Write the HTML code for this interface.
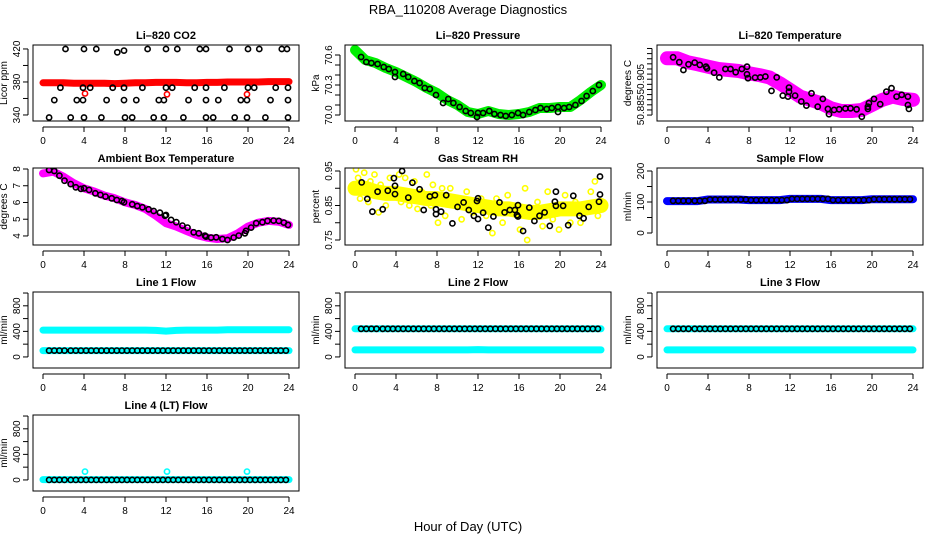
<!DOCTYPE html>
<html><head><meta charset="utf-8"><style>
body{margin:0;background:#fff;}
svg{display:block;font-family:"Liberation Sans",Arial,sans-serif;}
</style></head><body>
<svg id="chart" width="936" height="540" viewBox="0 0 936 540">
<text x="468" y="14" text-anchor="middle" font-size="13">RBA_110208  Average Diagnostics</text>
<text x="468" y="531" text-anchor="middle" font-size="13">Hour of Day (UTC)</text>
</svg>
<script>
const hourly=[0,1,2,3,4,5,6,7,8,9,10,11,12,13,14,15,16,17,18,19,20,21,22,23,24];
const xTicks=[0,4,8,12,16,20,24];
const halfHours=[0.6,1.1,1.6,2.1,2.7,3.2,3.7,4.2,4.7,5.2,5.7,6.2,6.7,7.2,7.7,8.2,8.7,9.2,9.7,10.2,10.7,11.2,11.7,12.2,12.7,13.2,13.7,14.2,14.7,15.2,15.7,16.2,16.7,17.2,17.7,18.2,18.7,19.2,19.7,20.2,20.7,21.2,21.7,22.2,22.7,23.2,23.7];

// CO2
const co2Red=[379,379,379,378.5,378.5,378.5,378.5,378,378.5,379,379,379.5,379.5,379.5,379,379,379.5,379.5,380,380,380,380,380.5,380.5,380.5];
const co2RedOutHours=[4.1,12.1,19.9];
const co2RedOutValues=[366,365,365];
const co2BlackHours=[2.2,4.0,5.2,7.25,7.9,10.2,12.0,13.1,15.3,15.9,18.2,20.0,21.1,23.3,23.8,
1.7,3.9,4.6,6.8,7.9,9.7,12.0,12.6,14.8,15.9,17.7,20.0,20.6,22.7,23.9,
1.1,3.3,3.9,6.2,7.9,9.1,11.3,11.8,14.2,15.9,17.1,19.3,19.9,22.2,23.9,
0.6,2.7,4.0,5.7,8.0,8.7,10.8,11.8,13.7,15.9,16.6,18.7,19.9,21.7,23.9];
const co2BlackValues=[420,420,420,416,418,420,420,420,420,420,420,420,420,420,420,
373,373,373,373,373,373,373,373,373,373,373,373,373,373,373,
358,358,358,358,358,358,358,358,358,358,358,358,358,358,358,
337,337,337,337,337,337,337,337,337,337,337,337,337,337,337];
// Pressure
const presGreen=[70.65,70.55,70.52,70.47,70.43,70.38,70.33,70.27,70.22,70.15,70.10,70.03,70.01,70.04,70.01,70.0,70.01,70.03,70.07,70.07,70.08,70.08,70.15,70.23,70.30];
const presBlackHours=[0.6,1.1,1.6,2.2,2.8,3.3,3.9,3.9,4.7,5.2,5.8,6.3,6.8,7.3,7.9,8.6,9.1,9.6,10.2,10.8,11.3,11.9,12.0,12.5,13.1,13.6,14.2,14.7,15.3,15.9,16.4,17.0,17.6,18.1,18.7,19.2,19.8,19.8,20.4,20.9,21.5,22.1,22.6,23.2,23.8];
const presBlackValues=[70.58,70.53,70.52,70.51,70.48,70.46,70.43,70.38,70.41,70.38,70.34,70.32,70.27,70.26,70.20,70.12,70.16,70.12,70.08,70.04,70.02,69.98,70.02,70.02,70.04,70.01,70.0,69.99,70.0,70.02,70.0,70.03,70.05,70.07,70.06,70.07,70.08,70.03,70.07,70.08,70.10,70.14,70.19,70.24,70.30];
// Li-820 temperature
const tempMagenta=[50.9102,50.9102,50.9083,50.9073,50.9061,50.905,50.9045,50.904,50.9029,50.902,50.9009,50.898,50.8948,50.8915,50.8899,50.8883,50.8858,50.8845,50.8845,50.885,50.8874,50.8899,50.8915,50.8904,50.8899];
const tempBlackHours=[0.6,1.2,1.6,2.1,2.7,3.2,3.8,3.9,4.6,5.1,5.7,6.2,6.7,7.3,7.8,7.8,7.9,8.6,9.1,9.6,10.2,10.7,11.3,11.8,11.9,11.9,12.5,13.1,13.6,14.1,14.7,15.2,15.7,15.8,16.3,16.8,17.4,17.9,18.5,19.0,19.6,19.6,19.7,20.2,20.8,21.4,21.9,22.4,22.9,23.5,23.5,23.6];
const tempBlackValues=[50.9107,50.9083,50.9045,50.9073,50.9081,50.9070,50.9061,50.9053,50.9032,50.9009,50.9050,50.9050,50.9034,50.9050,50.9061,50.9024,50.9005,50.9008,50.9009,50.9013,50.8943,50.9009,50.8920,50.8915,50.8959,50.8939,50.8920,50.8891,50.8871,50.8931,50.8866,50.8904,50.8855,50.8829,50.8850,50.8853,50.8857,50.8858,50.8853,50.8817,50.8866,50.8855,50.8883,50.8904,50.8878,50.8939,50.8956,50.8915,50.8924,50.8915,50.8874,50.8855];
// Ambient box temperature
const ambMagenta=[7.74,7.84,7.54,7.15,6.85,6.65,6.41,6.25,6.01,5.85,5.61,5.21,4.76,4.56,4.30,4.06,3.90,3.82,3.86,4.16,4.56,4.79,4.90,4.85,4.66];
const ambBlackHours=[0.6,1.1,1.6,2.1,2.7,3.2,3.7,4.0,4.5,5.1,5.6,6.1,6.7,7.2,7.7,7.9,8.7,9.2,9.7,10.3,10.8,11.4,11.9,12.0,12.5,13.0,13.6,14.1,14.7,15.2,15.8,15.9,16.4,16.9,17.5,18.0,18.6,19.1,19.7,19.8,20.3,20.8,21.4,21.9,22.5,23.0,23.5,23.9];
const ambBlackValues=[7.94,7.88,7.60,7.30,7.10,6.91,6.81,6.85,6.75,6.55,6.45,6.35,6.25,6.15,6.09,6.01,5.89,5.79,5.71,5.59,5.49,5.39,5.21,5.25,4.96,4.82,4.62,4.50,4.22,4.16,4.02,3.96,3.90,3.92,3.82,3.76,3.90,4.02,4.16,4.30,4.50,4.76,4.82,4.90,4.92,4.90,4.80,4.66];
// Gas stream RH
const rhYellowMean=[0.90,0.90,0.89,0.885,0.885,0.88,0.875,0.87,0.87,0.865,0.86,0.855,0.85,0.845,0.84,0.84,0.835,0.83,0.83,0.835,0.84,0.84,0.84,0.845,0.85];
const rhYellowHours=[0.1,0.3,0.5,0.9,1.3,1.5,1.9,2.3,2.5,3.0,3.4,3.6,4.3,4.5,4.9,5.3,5.8,6.1,6.5,7.0,7.4,7.6,8.1,8.5,8.8,9.3,9.9,10.4,10.9,11.5,12.3,12.8,13.4,13.8,14.4,14.9,15.5,16.1,16.6,16.8,17.3,17.8,18.3,18.8,19.3,19.9,20.5,21.0,21.5,22.0,22.5,23.0,23.4,23.7];
const rhYellowValues=[0.955,0.93,0.87,0.945,0.86,0.92,0.94,0.83,0.91,0.85,0.93,0.88,0.94,0.86,0.93,0.85,0.92,0.84,0.89,0.94,0.85,0.91,0.80,0.90,0.82,0.90,0.86,0.81,0.89,0.83,0.87,0.82,0.77,0.87,0.80,0.88,0.83,0.78,0.90,0.75,0.82,0.86,0.79,0.89,0.81,0.78,0.88,0.80,0.86,0.80,0.84,0.89,0.92,0.82];
const rhBlackHours=[0.65,1.2,1.7,2.2,2.7,3.2,3.8,3.9,3.9,4.6,5.2,5.6,6.3,6.7,7.3,7.8,7.9,7.9,8.4,8.9,9.5,10.0,10.6,11.1,11.6,11.9,12.0,12.0,12.5,13.0,13.5,14.1,14.6,15.1,15.6,15.8,15.9,15.9,16.4,17.0,17.5,18.0,18.5,19.0,19.5,19.6,19.6,20.3,20.8,21.3,21.9,22.3,22.8,23.8,23.9,23.9];
const rhBlackValues=[0.917,0.869,0.832,0.890,0.839,0.893,0.929,0.907,0.883,0.950,0.873,0.916,0.897,0.837,0.876,0.880,0.839,0.825,0.832,0.880,0.798,0.846,0.859,0.837,0.820,0.863,0.871,0.811,0.829,0.786,0.818,0.859,0.830,0.837,0.837,0.822,0.818,0.851,0.776,0.844,0.805,0.820,0.830,0.791,0.861,0.849,0.890,0.849,0.793,0.878,0.820,0.813,0.846,0.861,0.934,0.882];
// Sample flow
const sampleBlue=[103,103,103,103,108,108,108,108,106,106,106,106,110,110,110,110,106,106,106,106,109,109,109,109,109];
const sampleBlack=[104,104,104,104,104,104,104,108,108,108,108,108,108,108,108,106,106,106,106,106,106,106,106,110,110,110,110,110,110,110,110,106,106,106,106,106,106,106,106,109,109,109,109,109,109,109,109];
// Line flows
const line1CyanHigh=[420,420,420,420,420,420,420,420,420,420,420,415,405,415,420,420,420,420,425,425,425,425,425,425,425];
const line1CyanLow=[100,100,100,100,100,100,100,100,100,100,100,100,100,100,100,100,100,100,100,100,100,100,100,100,100];
const line1Black=[100,100,100,100,100,100,100,100,100,100,100,100,100,100,100,100,100,100,100,100,100,100,100,100,100,100,100,100,100,100,100,100,100,100,100,100,100,100,100,100,100,100,100,100,100,100,100];
const line2CyanHigh=[440,440,440,440,440,440,440,440,440,440,440,440,440,440,440,440,440,440,440,440,440,440,440,440,440];
const line2CyanLow=[110,110,110,110,110,110,110,110,110,110,110,110,115,110,110,110,110,110,110,110,110,110,110,110,110];
const line2Black=[440,440,440,440,440,440,440,440,440,440,440,440,440,440,440,440,440,440,440,440,440,440,440,440,440,440,440,440,440,440,440,440,440,440,440,440,440,440,440,440,440,440,440,440,440,440,440];
const line3CyanHigh=[440,440,440,440,440,440,440,440,440,440,440,440,440,440,440,440,440,440,440,440,440,440,440,440,440];
const line3CyanLow=[110,110,110,110,110,110,110,110,110,110,110,110,110,110,110,110,110,110,110,110,110,110,110,110,110];
const line3Black=[440,440,440,440,440,440,440,440,440,440,440,440,440,440,440,440,440,440,440,440,440,440,440,440,440,440,440,440,440,440,440,440,440,440,440,440,440,440,440,440,440,440,440,440,440,440,440];
const line4Cyan=[5,5,5,5,5,5,5,5,5,5,5,5,5,5,5,5,5,5,5,5,5,5,5,5,5];
const line4SpikeHours=[4.1,12.1,19.9];
const line4SpikeValues=[130,130,130];
const line4Black=[0,0,0,0,0,0,0,0,0,0,0,0,0,0,0,0,0,0,0,0,0,0,0,0,0,0,0,0,0,0,0,0,0,0,0,0,0,0,0,0,0,0,0,0,0,0,0];

const NS='http://www.w3.org/2000/svg';
const svg=document.getElementById('chart');
const rowTop=[45,168,292,415], rowBot=[121,245,368,491];
function mk(tag,attrs,parent){const e=document.createElementNS(NS,tag);for(const k in attrs)e.setAttribute(k,attrs[k]);(parent||svg).appendChild(e);return e;}

function panel(p){
  const left=33+312*p.col,right=299+312*p.col,top=rowTop[p.row],bot=rowBot[p.row];
  const g=mk('g',{});
  
  
  const xs=h=>left+10+h*10.25;
  const ys=v=>bot-(v-p.ymin)/(p.ymax-p.ymin)*(bot-top);
  const clipId='clip'+p.name;
  const cp=mk('clipPath',{id:clipId},g);mk('rect',{x:left,y:top,width:right-left,height:bot-top},cp);
  const marks=mk('g',{'clip-path':'url(#'+clipId+')'},g);
  
  
  p.series.forEach(s=>{
    if(s.type==='band'){
      const pts=s.x.map((h,i)=>xs(h).toFixed(1)+','+ys(s.y[i]).toFixed(1)).join(' ');
      const pl=mk('polyline',{points:pts,fill:'none',stroke:s.color,'stroke-width':s.w,'stroke-linejoin':'round','stroke-linecap':'round'},marks);
      
      
    }else{
      s.x.forEach((h,i)=>{
        const c=mk('circle',{cx:xs(h).toFixed(1),cy:ys(s.y[i]).toFixed(1),r:2.6,fill:'none',stroke:s.color,'stroke-width':1.6},marks);
        
        
      });
    }
  });
  const box=mk('rect',{x:left,y:top,width:right-left,height:bot-top,fill:'none',stroke:'#000','stroke-width':1},g);
  
  
  const t=mk('text',{x:(left+right)/2,y:top-6,'text-anchor':'middle','font-size':11,'font-weight':'bold'},g);
  t.textContent=p.title;
  
  
  mk('line',{x1:xs(0),x2:xs(24),y1:bot+6,y2:bot+6,stroke:'#000'},g);
  xTicks.forEach(h=>{
    mk('line',{x1:xs(h),x2:xs(h),y1:bot+6,y2:bot+11,stroke:'#000'},g);
    const tl=mk('text',{x:xs(h),y:bot+23,'text-anchor':'middle','font-size':10},g);
    tl.textContent=h;
    
    
  });
  const ax=left-5;
  mk('line',{x1:ax,x2:ax,y1:ys(p.ticks[0]),y2:ys(p.ticks[p.ticks.length-1]),stroke:'#000'},g);
  p.ticks.forEach((v,i)=>{
    mk('line',{x1:ax-5,x2:ax,y1:ys(v),y2:ys(v),stroke:'#000'},g);
    if(p.labels[i]!==''){
      const yy=ys(v);
      const tl=mk('text',{x:ax-8,y:yy,'text-anchor':'middle','font-size':10,transform:'rotate(-90 '+(ax-8)+' '+yy+')'},g);
      tl.textContent=p.labels[i];
      
      
    }
  });
  const ym=(top+bot)/2, yx=left-26;
  const yl=mk('text',{x:yx,y:ym,'text-anchor':'middle','font-size':10,transform:'rotate(-90 '+yx+' '+ym+')'},g);
  yl.textContent=p.ylab;
  
  
}

const flowTicks=[0,200,400,600,800,1000], flowLabels=['0','','400','','800',''];
panel({name:'co2',col:0,row:0,title:'Li\u2013820 CO2',ylab:'Licor ppm',ymin:332.7,ymax:424.8,ticks:[340,360,380,400,420],labels:['340','','380','','420'],
 series:[{type:'band',x:hourly,y:co2Red,color:'#ff0000',w:7,name:'co2-red-band'},{type:'pts',x:co2RedOutHours,y:co2RedOutValues,color:'#ff0000',name:'co2-red-outlier'},{type:'pts',x:co2BlackHours,y:co2BlackValues,color:'#000',name:'co2-black'}]});
panel({name:'pressure',col:1,row:0,title:'Li\u2013820 Pressure',ylab:'kPa',ymin:69.94,ymax:70.70,ticks:[70.0,70.1,70.2,70.3,70.4,70.5,70.6],labels:['70.0','','','70.3','','','70.6'],
 series:[{type:'band',x:hourly,y:presGreen,color:'#00ee00',w:10,name:'pressure-green-band'},{type:'pts',x:presBlackHours,y:presBlackValues,color:'#000',name:'pressure-black'}]});
panel({name:'li820-temp',col:2,row:0,title:'Li\u2013820 Temperature',ylab:'degrees C',ymin:50.8796,ymax:50.9167,ticks:[50.8825,50.885,50.8875,50.89,50.8925,50.895,50.8975,50.90,50.9025,50.905,50.9075,50.91,50.9125,50.915],labels:['','50.885','','','','','','50.905','','','','','',''],
 series:[{type:'band',x:hourly,y:tempMagenta,color:'#ff00ff',w:14,name:'temp-magenta-band'},{type:'pts',x:tempBlackHours,y:tempBlackValues,color:'#000',name:'temp-black'}]});
panel({name:'ambient',col:0,row:1,title:'Ambient Box Temperature',ylab:'degrees C',ymin:3.46,ymax:8.06,ticks:[4,5,6,7,8],labels:['4','5','6','7','8'],
 series:[{type:'band',x:hourly,y:ambMagenta,color:'#ff00ff',w:8,name:'ambient-magenta-band'},{type:'pts',x:ambBlackHours,y:ambBlackValues,color:'#000',name:'ambient-black'}]});
panel({name:'rh',col:1,row:1,title:'Gas Stream RH',ylab:'percent',ymin:0.7355,ymax:0.9587,ticks:[0.75,0.80,0.85,0.90,0.95],labels:['0.75','','0.85','','0.95'],
 series:[{type:'band',x:hourly,y:rhYellowMean,color:'#ffff00',w:15,name:'rh-yellow-band'},{type:'pts',x:rhYellowHours,y:rhYellowValues,color:'#ffff00',name:'rh-yellow'},{type:'pts',x:rhBlackHours,y:rhBlackValues,color:'#000',name:'rh-black'}]});
panel({name:'sample-flow',col:2,row:1,title:'Sample Flow',ylab:'ml/min',ymin:-38.7,ymax:209.7,ticks:[0,50,100,150,200],labels:['0','','100','','200'],
 series:[{type:'band',x:hourly,y:sampleBlue,color:'#0000ff',w:8,name:'sample-blue-band'},{type:'pts',x:halfHours,y:sampleBlack,color:'#000',name:'sample-black'}]});
panel({name:'line1',col:0,row:2,title:'Line 1 Flow',ylab:'ml/min',ymin:-173,ymax:1016,ticks:flowTicks,labels:flowLabels,
 series:[{type:'band',x:hourly,y:line1CyanHigh,color:'#00ffff',w:7,name:'line1-cyan-high'},{type:'band',x:hourly,y:line1CyanLow,color:'#00ffff',w:7,name:'line1-cyan-low'},{type:'pts',x:halfHours,y:line1Black,color:'#000',name:'line1-black'}]});
panel({name:'line2',col:1,row:2,title:'Line 2 Flow',ylab:'ml/min',ymin:-173,ymax:1016,ticks:flowTicks,labels:flowLabels,
 series:[{type:'band',x:hourly,y:line2CyanHigh,color:'#00ffff',w:7,name:'line2-cyan-high'},{type:'band',x:hourly,y:line2CyanLow,color:'#00ffff',w:7,name:'line2-cyan-low'},{type:'pts',x:halfHours,y:line2Black,color:'#000',name:'line2-black'}]});
panel({name:'line3',col:2,row:2,title:'Line 3 Flow',ylab:'ml/min',ymin:-173,ymax:1016,ticks:flowTicks,labels:flowLabels,
 series:[{type:'band',x:hourly,y:line3CyanHigh,color:'#00ffff',w:7,name:'line3-cyan-high'},{type:'band',x:hourly,y:line3CyanLow,color:'#00ffff',w:7,name:'line3-cyan-low'},{type:'pts',x:halfHours,y:line3Black,color:'#000',name:'line3-black'}]});
panel({name:'line4',col:0,row:3,title:'Line 4 (LT) Flow',ylab:'ml/min',ymin:-173,ymax:1016,ticks:flowTicks,labels:flowLabels,
 series:[{type:'band',x:hourly,y:line4Cyan,color:'#00ffff',w:7,name:'line4-cyan'},{type:'pts',x:line4SpikeHours,y:line4SpikeValues,color:'#00ffff',name:'line4-spike'},{type:'pts',x:halfHours,y:line4Black,color:'#000',name:'line4-black'}]});
</script>
</body></html>
